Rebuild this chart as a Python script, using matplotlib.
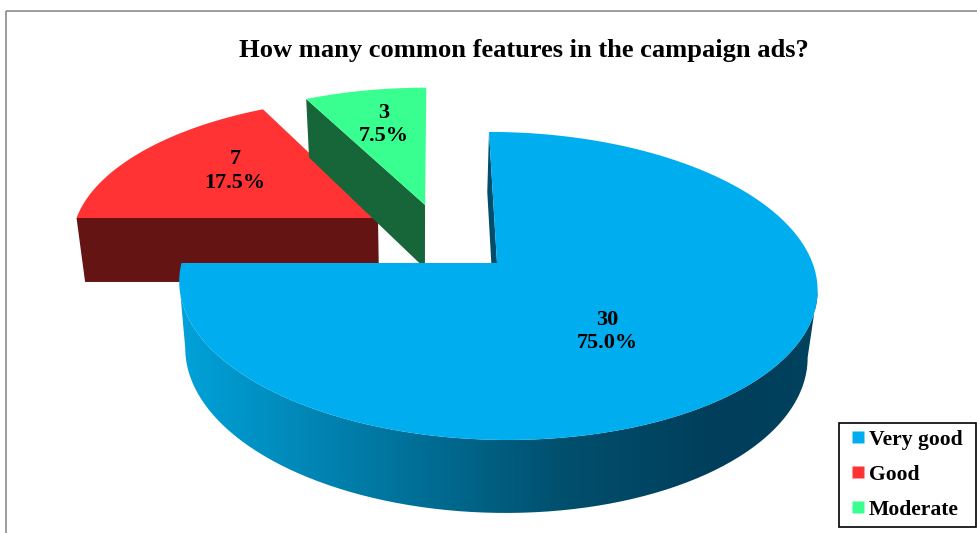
# Exploded 3D pie drawn with a small perspective projection
import numpy as np
import matplotlib.pyplot as plt
from matplotlib.colors import LinearSegmentedColormap
from matplotlib.lines import Line2D
from matplotlib.patches import PathPatch, Polygon, Rectangle
from matplotlib.path import Path

plt.rcParams["font.family"] = ["Liberation Serif", "DejaVu Serif"]

# Chart data
categorias = ["Very good", "Good", "Moderate"]
valores = [30, 7, 3]
titulo = "How many common features in the campaign ads?"

# Slice styles and offsets on the pie plane
cores_topo = ["#00AEEF", "#FF3333", "#38FF8F"]
cores_lado = ["#004D6C", "#651414", "#16663A"]
deslocamentos = [(0.0, 0.0), (-0.3857, 0.3127), (-0.230, 0.4086)]
posicoes_rotulo = [(607, 331.5), (235, 171), (384, 124.5)]

# Projection constants, in pixels
CENTRO_X, CENTRO_Y = 497, 263
ESCALA_X, ESCALA_Y = 315.5, 150.6
CISALHAMENTO = -9.2
PERSPECTIVA = 0.149
ALTURA = 65.9
PERSPECTIVA_ALTURA = 0.097
FUGA_X = 420
ENCOLHE = 0.025


# Pie plane to screen, top face
def projetar(x, y):
    fator = 1 + PERSPECTIVA * y
    tela_x = CENTRO_X + (ESCALA_X * x + CISALHAMENTO * y) / fator
    tela_y = CENTRO_Y - ESCALA_Y * y / fator
    return tela_x, tela_y


# Pie plane to screen, bottom face
def projetar_base(x, y):
    tela_x, tela_y = projetar(x, y)
    fator = 1 + PERSPECTIVA_ALTURA * y
    return tela_x + (FUGA_X - tela_x) * ENCOLHE, tela_y + ALTURA / fator


# Points of the rim of one slice
def arco(inicio, fim, deslocamento):
    angulos = np.radians(np.linspace(inicio, fim, 400))
    return (deslocamento[0] + np.cos(angulos),
            deslocamento[1] + np.sin(angulos))


def parede(xs, ys):
    topo = np.column_stack(projetar(xs, ys))
    base = np.column_stack(projetar_base(xs, ys))
    return np.vstack([topo, base[::-1]])


# Outline of the curved wall, joined at the side tangents of both rims
def contorno_curvo(xs, ys):
    topo = np.column_stack(projetar(xs, ys))
    base = np.column_stack(projetar_base(xs, ys))
    t_dir, t_esq = topo[:, 0].argmax(), topo[:, 0].argmin()
    b_dir, b_esq = base[:, 0].argmax(), base[:, 0].argmin()
    return np.vstack([topo[t_dir:t_esq + 1], base[b_dir:b_esq + 1][::-1]])


fig = plt.figure(figsize=(9.77, 5.33), dpi=100)
ax = fig.add_axes([0, 0, 1, 1])

# Outer frame of the chart area
ax.add_patch(Rectangle((5.5, 10.5), 990, 560, fill=False,
                       edgecolor="#8C8C8C", linewidth=1.2))

# Slice angles, clockwise from twelve o'clock
total = sum(valores)
limites = 90 - 360 * np.cumsum([0] + valores) / total

# Small slices first, big slice on top
for i in [1, 2]:
    inicio, fim = limites[i], limites[i + 1]
    dx, dy = deslocamentos[i]
    xs, ys = arco(inicio, fim, (dx, dy))

    # Radial wall that faces the viewer
    radial_x = np.array([dx, xs[0]])
    radial_y = np.array([dy, ys[0]])
    ax.add_patch(Polygon(parede(radial_x, radial_y), closed=True,
                         facecolor=cores_lado[i], edgecolor="none"))

    topo_x, topo_y = projetar(np.append(xs, dx), np.append(ys, dy))
    ax.add_patch(Polygon(np.column_stack([topo_x, topo_y]), closed=True,
                         facecolor=cores_topo[i], edgecolor="none"))

# Big slice: curved wall with a horizontal gradient
gradiente = LinearSegmentedColormap.from_list(
    "lado_azul",
    [(0.0, "#00A2DA"), (0.596, "#00506E"), (0.846, "#003E5B"), (1.0, "#00425F")],
)
xs, ys = arco(limites[0], limites[1], deslocamentos[0])
contorno = contorno_curvo(xs, ys)
imagem = ax.imshow(np.linspace(0, 1, 512).reshape(1, -1), cmap=gradiente,
                   extent=(180, 818, 533, 100), aspect="auto", zorder=1)
recorte = PathPatch(Path(np.vstack([contorno, contorno[:1]])),
                    facecolor="none", edgecolor="none", transform=ax.transData)
ax.add_patch(recorte)
imagem.set_clip_path(recorte)

# Thin radial wall at the start of the big slice
ax.add_patch(Polygon(parede(np.array([0.0, xs[0]]), np.array([0.0, ys[0]])),
                     closed=True, facecolor=cores_lado[0], edgecolor="none",
                     zorder=2))

topo_x, topo_y = projetar(np.append(xs, 0.0), np.append(ys, 0.0))
ax.add_patch(Polygon(np.column_stack([topo_x, topo_y]), closed=True,
                     facecolor=cores_topo[0], edgecolor="none", zorder=3))

# Title and data labels
ax.text(523.5, 50.5, titulo, ha="center", va="center", fontsize=19.05,
        fontweight="bold", color="black", zorder=5)

for valor, (px, py) in zip(valores, posicoes_rotulo):
    ax.text(px, py, f"{valor}\n{100 * valor / total:.1f}%", ha="center",
            va="center", fontsize=16, fontweight="bold", color="black",
            linespacing=1.2, zorder=5)

# Legend
marcas = [Line2D([], [], linestyle="none", marker="s", markersize=8,
                 markerfacecolor=c, markeredgecolor="none")
          for c in cores_topo]
legenda = ax.legend(marcas, categorias, loc="lower left",
                    bbox_to_anchor=(839 / 977, (533 - 527) / 533,
                                    137 / 977, 105 / 533),
                    mode="expand", borderaxespad=0, fancybox=False,
                    framealpha=1, edgecolor="black", handlelength=1.1,
                    handletextpad=-0.05, labelspacing=0.69, borderpad=0.32,
                    prop={"size": 15.6, "weight": "bold",
                          "family": "Liberation Serif"})
legenda.get_frame().set_linewidth(1.2)
legenda.set_zorder(6)

ax.set_xlim(0, 977)
ax.set_ylim(533, 0)
ax.axis("off")

fig.savefig("out.png", dpi=100)
